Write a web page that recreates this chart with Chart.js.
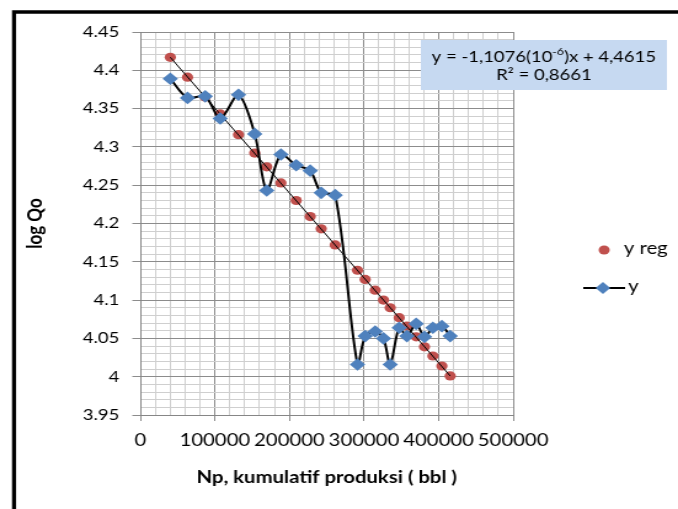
<!DOCTYPE html>
<html>
<head>
<meta charset="utf-8">
<script src="https://cdn.jsdelivr.net/npm/chart.js@4.4.0/dist/chart.umd.min.js"></script>
<style>
  html, body { margin: 0; padding: 0; background: #fff; overflow: hidden; }
  #wrap { width: 678px; height: 509px; position: relative; overflow: hidden; }
  /* the original picture is stretched sideways, so the canvas is too */
  #chart { transform: scaleX(1.2305); transform-origin: 0 0; }
</style>
</head>
<body>
<div id="wrap"><canvas id="chart" width="551" height="509"></canvas></div>
<script>
// Np (kumulatif produksi, bbl) for each measurement
const npValues = [40214, 63405, 87131, 107239, 131769, 153485, 169571, 188606,
  209115, 227882, 242627, 261394, 291287, 301609, 315013, 326139, 335121,
  347185, 357507, 369973, 381099, 392359, 404424, 415550];

// log Qo, measured ("y")
const logQo = [4.389, 4.364, 4.366, 4.337, 4.368, 4.317, 4.243, 4.290,
  4.276, 4.269, 4.240, 4.237, 4.016, 4.053, 4.059, 4.050, 4.016,
  4.064, 4.053, 4.069, 4.052, 4.064, 4.066, 4.053];

// log Qo, regression ("y reg")
const logQoReg = [4.417, 4.391, 4.365, 4.343, 4.316, 4.292, 4.274, 4.253,
  4.230, 4.209, 4.193, 4.172, 4.139, 4.127, 4.113, 4.100, 4.090,
  4.077, 4.066, 4.052, 4.039, 4.027, 4.014, 4.001];

// linear trendline end points
const trendNp = [40214, 415550];
const trendLogQo = [4.417, 4.001];

const equationText = ['y = -1,1076(10', '-6', ')x + 4,4615'];
const r2Text = 'R\u00b2 = 0,8661';
const legendLabels = ['y reg', 'y'];

const RED = '#C0504D';
const BLUE = '#4F81BD';
const FONT = 'Lato, "Open Sans", sans-serif';

function pts(xs, ys) {
  return xs.map((x, i) => ({ x: x, y: ys[i] }));
}

function isMajorY(v) {
  const h = v * 100;
  return Math.abs(h - Math.round(h)) < 1e-6 && Math.round(h) % 5 === 0;
}
function isMajorX(v) {
  return Math.round(v) % 100000 === 0;
}

// black frame round the chart
const framePlugin = {
  id: 'frame',
  afterDraw(chart) {
    const ctx = chart.ctx;
    ctx.save();
    ctx.strokeStyle = '#000';
    ctx.lineWidth = 3.3;
    ctx.beginPath();
    ctx.moveTo(11.4, 509);
    ctx.lineTo(11.4, 12);
    ctx.lineTo(560, 12);
    ctx.stroke();
    ctx.restore();
  }
};

// trendline equation label
const equationPlugin = {
  id: 'equation',
  afterDraw(chart) {
    const ctx = chart.ctx;
    const cx = 442;
    ctx.save();
    ctx.fillStyle = '#C6D9F1';
    ctx.fillRect(342, 40, 200, 50);
    ctx.fillStyle = '#000';
    ctx.textBaseline = 'middle';
    ctx.font = '15px ' + FONT;
    const w0 = ctx.measureText(equationText[0]).width;
    ctx.font = '10px ' + FONT;
    const w1 = ctx.measureText(equationText[1]).width;
    ctx.font = '15px ' + FONT;
    const w2 = ctx.measureText(equationText[2]).width;
    let x = cx - (w0 + w1 + w2) / 2;
    ctx.textAlign = 'left';
    ctx.fillText(equationText[0], x, 57);
    x += w0;
    ctx.font = '10px ' + FONT;
    ctx.fillText(equationText[1], x, 52);
    x += w1;
    ctx.font = '15px ' + FONT;
    ctx.fillText(equationText[2], x, 57);
    ctx.textAlign = 'center';
    ctx.fillText(r2Text, cx, 75);
    ctx.restore();
  }
};

// legend: marker only for y reg, line + marker for y
const legendPlugin = {
  id: 'sideLegend',
  afterDraw(chart) {
    const ctx = chart.ctx;
    ctx.save();
    ctx.font = '16.5px ' + FONT;
    ctx.textBaseline = 'middle';
    ctx.textAlign = 'left';
    ctx.fillStyle = RED;
    ctx.beginPath();
    ctx.arc(491, 250, 4.5, 0, Math.PI * 2);
    ctx.fill();
    ctx.fillStyle = '#000';
    ctx.fillText(legendLabels[0], 507, 249);
    ctx.strokeStyle = '#000';
    ctx.lineWidth = 2;
    ctx.beginPath();
    ctx.moveTo(474, 288);
    ctx.lineTo(508, 288);
    ctx.stroke();
    ctx.fillStyle = BLUE;
    ctx.beginPath();
    ctx.moveTo(490, 282);
    ctx.lineTo(496, 288);
    ctx.lineTo(490, 294);
    ctx.lineTo(484, 288);
    ctx.closePath();
    ctx.fill();
    ctx.fillStyle = '#000';
    ctx.fillText(legendLabels[1], 510.5, 287);
    ctx.restore();
  }
};

new Chart(document.getElementById('chart'), {
  type: 'scatter',
  data: {
    datasets: [
      {
        label: legendLabels[0],
        data: pts(npValues, logQoReg),
        pointStyle: 'circle',
        pointRadius: 4.6,
        backgroundColor: RED,
        borderColor: RED,
        borderWidth: 0,
        showLine: false,
        order: 3
      },
      {
        label: 'trend',
        data: pts(trendNp, trendLogQo),
        showLine: true,
        borderColor: '#000',
        borderWidth: 1,
        pointRadius: 0,
        order: 2
      },
      {
        label: legendLabels[1],
        data: pts(npValues, logQo),
        showLine: true,
        borderColor: '#000',
        borderWidth: 2,
        tension: 0.3,
        pointStyle: 'rectRot',
        pointRadius: 6.3,
        pointBackgroundColor: BLUE,
        pointBorderColor: BLUE,
        pointBorderWidth: 0,
        order: 1
      }
    ]
  },
  options: {
    responsive: false,
    animation: false,
    layout: { padding: { left: 0, top: 32, right: 134, bottom: 0 } },
    plugins: {
      legend: { display: false },
      tooltip: { enabled: false }
    },
    scales: {
      x: {
        type: 'linear',
        min: 0,
        max: 500000,
        afterFit(scale) { scale.height = 94; },
        border: { color: '#868686', width: 1 },
        grid: {
          color: c => isMajorX(c.tick.value) ? '#8c8c8c' : '#cfcfcf',
          tickColor: c => isMajorX(c.tick.value) ? '#8c8c8c' : 'rgba(0,0,0,0)',
          tickLength: 6,
          lineWidth: 1
        },
        ticks: {
          stepSize: 20000,
          autoSkip: false,
          maxRotation: 0,
          minRotation: 0,
          padding: 10,
          color: '#000',
          font: { family: FONT, size: 16.5 },
          callback: v => isMajorX(v) ? String(Math.round(v)) : ''
        },
        title: {
          display: true,
          text: 'Np, kumulatif produksi ( bbl )',
          color: '#000',
          font: { family: FONT, size: 16.5, weight: 'bold' },
          padding: { top: 0, bottom: 21 }
        }
      },
      y: {
        type: 'linear',
        min: 3.95,
        max: 4.45,
        afterFit(scale) { scale.width = 114; },
        border: { color: '#868686', width: 1 },
        grid: {
          color: c => isMajorY(c.tick.value) ? '#8c8c8c' : '#cfcfcf',
          tickColor: c => isMajorY(c.tick.value) ? '#8c8c8c' : 'rgba(0,0,0,0)',
          tickLength: 6.5,
          lineWidth: 1
        },
        ticks: {
          stepSize: 0.01,
          autoSkip: false,
          padding: 10.5,
          color: '#000',
          font: { family: FONT, size: 15 },
          callback: v => isMajorY(v) ? String(parseFloat(v.toFixed(2))) : ''
        },
        title: {
          display: true,
          text: 'log Qo',
          color: '#000',
          font: { family: FONT, size: 17, weight: 'bold' },
          padding: { top: 18, bottom: 0 }
        }
      }
    }
  },
  plugins: [framePlugin, equationPlugin, legendPlugin]
});
</script>
</body>
</html>
